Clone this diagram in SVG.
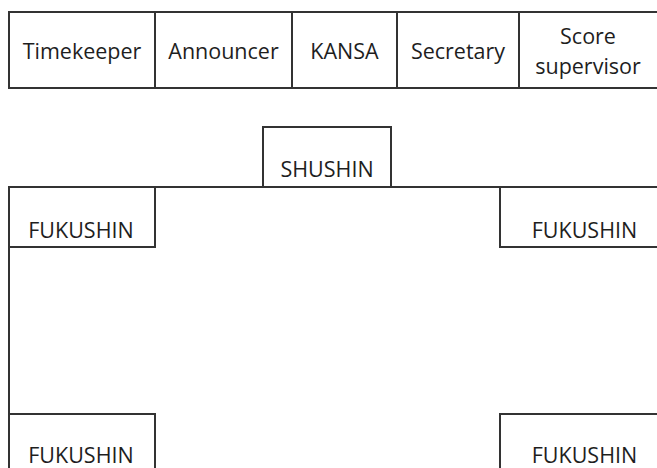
<svg xmlns="http://www.w3.org/2000/svg" width="657" height="468" viewBox="0 0 657 468">
<style>
.b{fill:none;stroke:#333;stroke-width:2}
.t{font-family:"Open Sans","Noto Sans",sans-serif;font-size:21.5px;fill:#1e1e1e;text-anchor:middle}
</style>
<rect width="657" height="468" fill="#fff"/>
<g id="table">
<g id="timekeeper"><rect class="b" x="9" y="12" width="146" height="76"/><text class="t" x="82" y="59">Timekeeper</text></g>
<g id="announcer"><rect class="b" x="155" y="12" width="137" height="76"/><text class="t" x="223.5" y="59">Announcer</text></g>
<g id="kansa"><rect class="b" x="292" y="12" width="105" height="76"/><text class="t" x="344.5" y="59">KANSA</text></g>
<g id="secretary"><rect class="b" x="397" y="12" width="122" height="76"/><text class="t" x="458" y="59">Secretary</text></g>
<g id="score-supervisor"><rect class="b" x="519" y="12" width="150" height="76"/><text class="t" x="588" y="44">Score</text><text class="t" x="588" y="74">supervisor</text></g>
</g>
<g id="connectors">
<path class="b" d="M155 187H263M391 187H500M9 247V414"/>
</g>
<g id="shushin"><rect class="b" x="263" y="127" width="128" height="60"/><text class="t" x="327" y="177">SHUSHIN</text></g>
<g id="fukushin-tl"><rect class="b" x="9" y="187" width="146" height="60"/><text class="t" x="81" y="238">FUKUSHIN</text></g>
<g id="fukushin-tr"><rect class="b" x="500" y="187" width="170" height="60"/><text class="t" x="584.5" y="238">FUKUSHIN</text></g>
<g id="fukushin-bl"><rect class="b" x="9" y="414" width="146" height="70"/><text class="t" x="81" y="463">FUKUSHIN</text></g>
<g id="fukushin-br"><rect class="b" x="500" y="414" width="170" height="70"/><text class="t" x="584.5" y="463">FUKUSHIN</text></g>
</svg>
